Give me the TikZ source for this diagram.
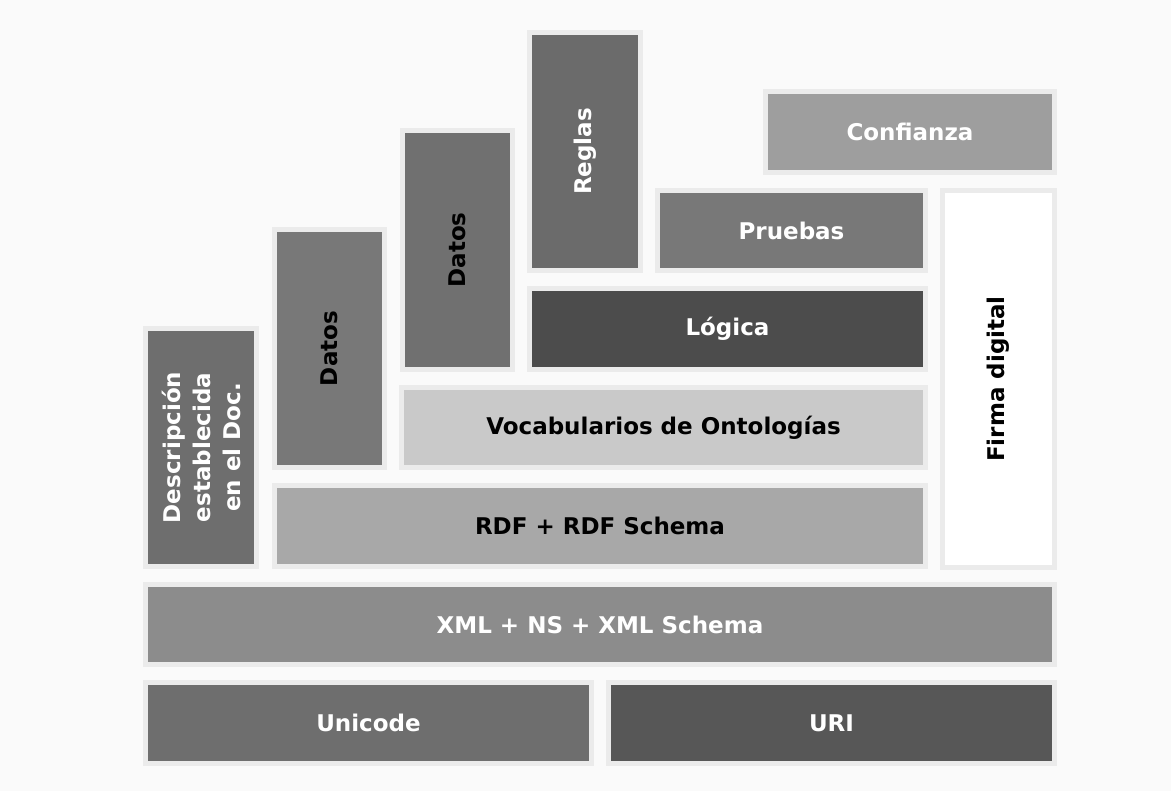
\documentclass[tikz,border=0pt]{standalone}
\usepackage{fontspec}
\setmainfont{DejaVu Sans}
\definecolor{bgpage}{HTML}{FAFAFA}
\definecolor{frameg}{HTML}{EBEBEB}
\begin{document}
\begin{tikzpicture}[x=1pt, y=-1pt,
    layer/.style={draw=frameg, line width=5pt, inner sep=0pt, font=\fontsize{23}{30}\selectfont\bfseries, align=center},
    dark/.style={text=white},
    light/.style={text=black}]
        % Background
        \fill[bgpage] (0,0) rectangle (1171,791);

        % Bottom row
        \node[layer, dark, fill=black!57, minimum width=446, minimum height=81] (unicode) at (368.5,723) {Unicode};
        \node[layer, dark, fill=black!66, minimum width=446, minimum height=81] (uri) at (831.5,723) {URI};

        % XML
        \node[layer, dark, fill=black!45, minimum width=909, minimum height=80] (xml) at (600,624.5) {XML + NS + XML Schema};

        % Left column
        \node[layer, dark, fill=black!57, rotate=90, minimum width=238, minimum height=111] (desc) at (201,447.5) {Descripción\\establecida\\en el Doc.};

        % RDF
        \node[layer, light, fill=black!34, minimum width=651, minimum height=81] (rdf) at (600,526) {RDF + RDF Schema};

        % Firma digital
        \node[layer, light, fill=white, rotate=90, minimum width=377, minimum height=112] (firma) at (998.5,379) {Firma digital};

        % Datos (1)
        \node[layer, light, fill=black!53, rotate=90, minimum width=238, minimum height=110] (datosa) at (329.5,348.5) {Datos};

        % Vocabularios
        \node[layer, light, fill=black!21, minimum width=524, minimum height=80] (vocab) at (663.5,427.5) {Vocabularios de Ontologías};

        % Datos (2)
        \node[layer, light, fill=black!56, rotate=90, minimum width=239, minimum height=110] (datosb) at (457.5,250) {Datos};

        % Logica
        \node[layer, dark, fill=black!70, minimum width=396, minimum height=81] (logica) at (727.5,329) {Lógica};

        % Reglas
        \node[layer, dark, fill=black!58, rotate=90, minimum width=238, minimum height=111] (reglas) at (585,151.5) {Reglas};

        % Pruebas
        \node[layer, dark, fill=black!53, minimum width=268, minimum height=80] (pruebas) at (791.5,230.5) {Pruebas};

        % Confianza
        \node[layer, dark, fill=black!38, minimum width=289, minimum height=81] (confianza) at (910,132) {Confianza};
      \end{tikzpicture}
\end{document}
